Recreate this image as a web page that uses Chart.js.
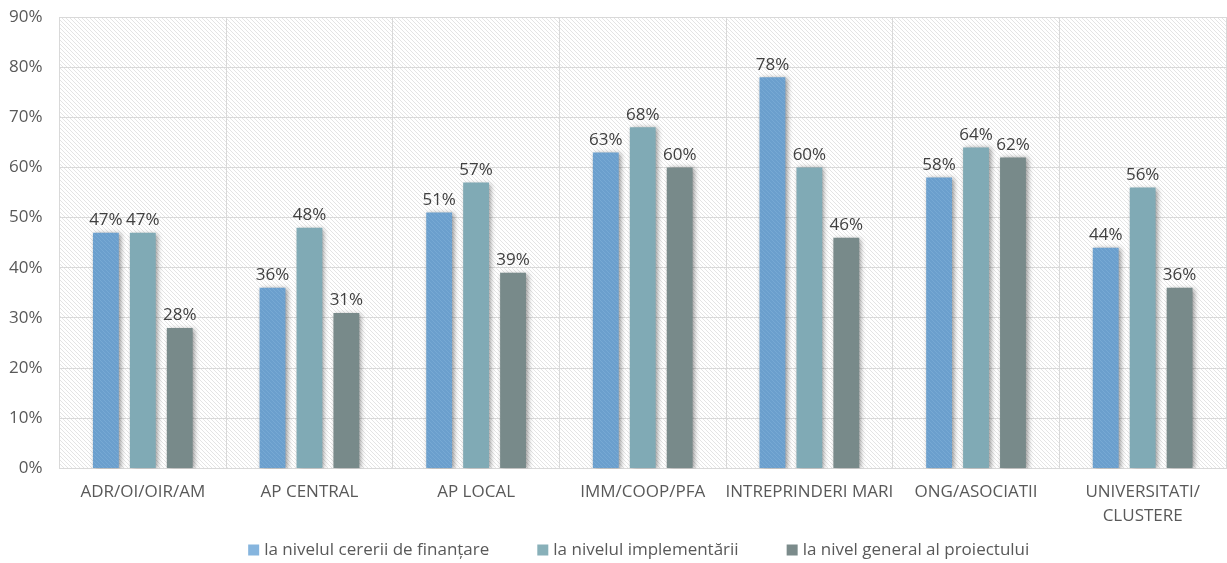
<!DOCTYPE html>
<html>
<head>
<meta charset="utf-8">
<script src="https://cdn.jsdelivr.net/npm/chart.js@4/dist/chart.umd.min.js"></script>
<style>
  html, body { margin: 0; padding: 0; background: #fff; }
  #wrap { width: 1227px; height: 563px; }
</style>
</head>
<body>
<div id="wrap"><canvas id="myChart" width="1227" height="563"></canvas></div>
<script>
var categories = ["ADR/OI/OIR/AM", "AP CENTRAL", "AP LOCAL", "IMM/COOP/PFA", "INTREPRINDERI MARI", "ONG/ASOCIATII", ["UNIVERSITATI/", "CLUSTERE"]];
var seriesNames = ["la nivelul cererii de finanțare", "la nivelul implementării", "la nivel general al proiectului"];
var cerere = [47, 36, 51, 63, 78, 58, 44];
var implementare = [47, 48, 57, 68, 60, 64, 56];
var general = [28, 31, 39, 60, 46, 62, 36];
var yTicks = [0, 10, 20, 30, 40, 50, 60, 70, 80, 90];

var legendColors = ["#86b5de", "#88b0b9", "#7b8b8b"];
var FONT = "'Open Sans', sans-serif";

// 4px diagonal hatch tile
function hatch(bg, line) {
    var c = document.createElement("canvas");
    c.width = 4; c.height = 4;
    var g = c.getContext("2d");
    g.fillStyle = bg;
    g.fillRect(0, 0, 4, 4);
    g.fillStyle = line;
    for (var i = 0; i < 4; i++) g.fillRect(i, i, 1, 1);
    return g.createPattern(c, "repeat");
}

var ctx = document.getElementById("myChart").getContext("2d");
var barColors = [hatch("#6b9fcd", "#77a9d4"), "#80aab5", "#788a8a"];

var plotBg = {
    id: "plotBg",
    beforeDraw: function(chart) {
        var a = chart.chartArea, c = chart.ctx;
        c.save();
        c.fillStyle = hatch("#ffffff", "#e4e4e4");
        c.fillRect(a.left, a.top, a.right - a.left, a.bottom - a.top);
        c.restore();
    }
};

var barShadow = {
    id: "barShadow",
    beforeDatasetDraw: function(chart) {
        var c = chart.ctx;
        c.save();
        c.shadowColor = "rgba(0,0,0,0.42)";
        c.shadowBlur = 5;
        c.shadowOffsetX = 2;
        c.shadowOffsetY = 1;
    },
    afterDatasetDraw: function(chart) {
        chart.ctx.restore();
    }
};

var valueLabels = {
    id: "valueLabels",
    afterDatasetsDraw: function(chart) {
        var c = chart.ctx;
        c.save();
        c.font = "17px " + FONT;
        c.fillStyle = "#404040";
        c.textAlign = "center";
        c.textBaseline = "bottom";
        chart.data.datasets.forEach(function(ds, i) {
            chart.getDatasetMeta(i).data.forEach(function(bar, j) {
                c.fillText(ds.data[j] + "%", bar.x, bar.y - 4);
            });
        });
        c.restore();
    }
};

// legend row under the axis labels, wider gaps than the built-in one
var bottomLegend = {
    id: "bottomLegend",
    afterDraw: function(chart) {
        var c = chart.ctx, a = chart.chartArea;
        var box = 11, gapText = 5, gapItem = 48, y = 550;
        c.save();
        c.font = "17px " + FONT;
        c.textBaseline = "middle";
        var widths = chart.data.datasets.map(function(ds) { return c.measureText(ds.label).width; });
        var total = widths.reduce(function(s, w) { return s + box + gapText + w; }, 0) + gapItem * (widths.length - 1);
        var x = (a.left + a.right) / 2 - total / 2 - 4;
        chart.data.datasets.forEach(function(ds, i) {
            c.fillStyle = legendColors[i];
            c.fillRect(x, y - box / 2, box, box);
            c.fillStyle = "#595959";
            c.fillText(ds.label, x + box + gapText, y);
            x += box + gapText + widths[i] + gapItem;
        });
        c.restore();
    }
};

var myChart = new Chart(ctx, {
    type: "bar",
    data: {
        labels: categories,
        datasets: [
            { label: seriesNames[0], data: cerere, backgroundColor: barColors[0] },
            { label: seriesNames[1], data: implementare, backgroundColor: barColors[1] },
            { label: seriesNames[2], data: general, backgroundColor: barColors[2] }
        ]
    },
    options: {
        responsive: false,
        animation: false,
        categoryPercentage: 0.665,
        barPercentage: 0.70,
        layout: { padding: { top: 17, right: 1, left: -8, bottom: 23 } },
        scales: {
            x: {
                grid: { color: "#d9d9d9", lineWidth: 1, drawTicks: false },
                border: { color: "#d9d9d9" },
                ticks: { color: "#595959", font: { family: FONT, size: 17, lineHeight: 1.4 }, padding: 12, maxRotation: 0, autoSkip: false }
            },
            y: {
                min: 0,
                max: 90,
                afterBuildTicks: function(axis) {
                    axis.ticks = yTicks.map(function(v) { return { value: v }; });
                },
                afterFit: function(axis) {
                    axis.paddingTop = 0;
                    axis.paddingBottom = 0;
                },
                grid: { color: "#d9d9d9", drawTicks: false },
                border: { display: false },
                ticks: {
                    color: "#595959",
                    font: { family: FONT, size: 17 },
                    padding: 17,
                    callback: function(v) { return v + "%"; }
                }
            }
        },
        plugins: {
            legend: { display: false },
            tooltip: { enabled: false }
        }
    },
    plugins: [plotBg, barShadow, valueLabels, bottomLegend]
});
</script>
</body>
</html>
